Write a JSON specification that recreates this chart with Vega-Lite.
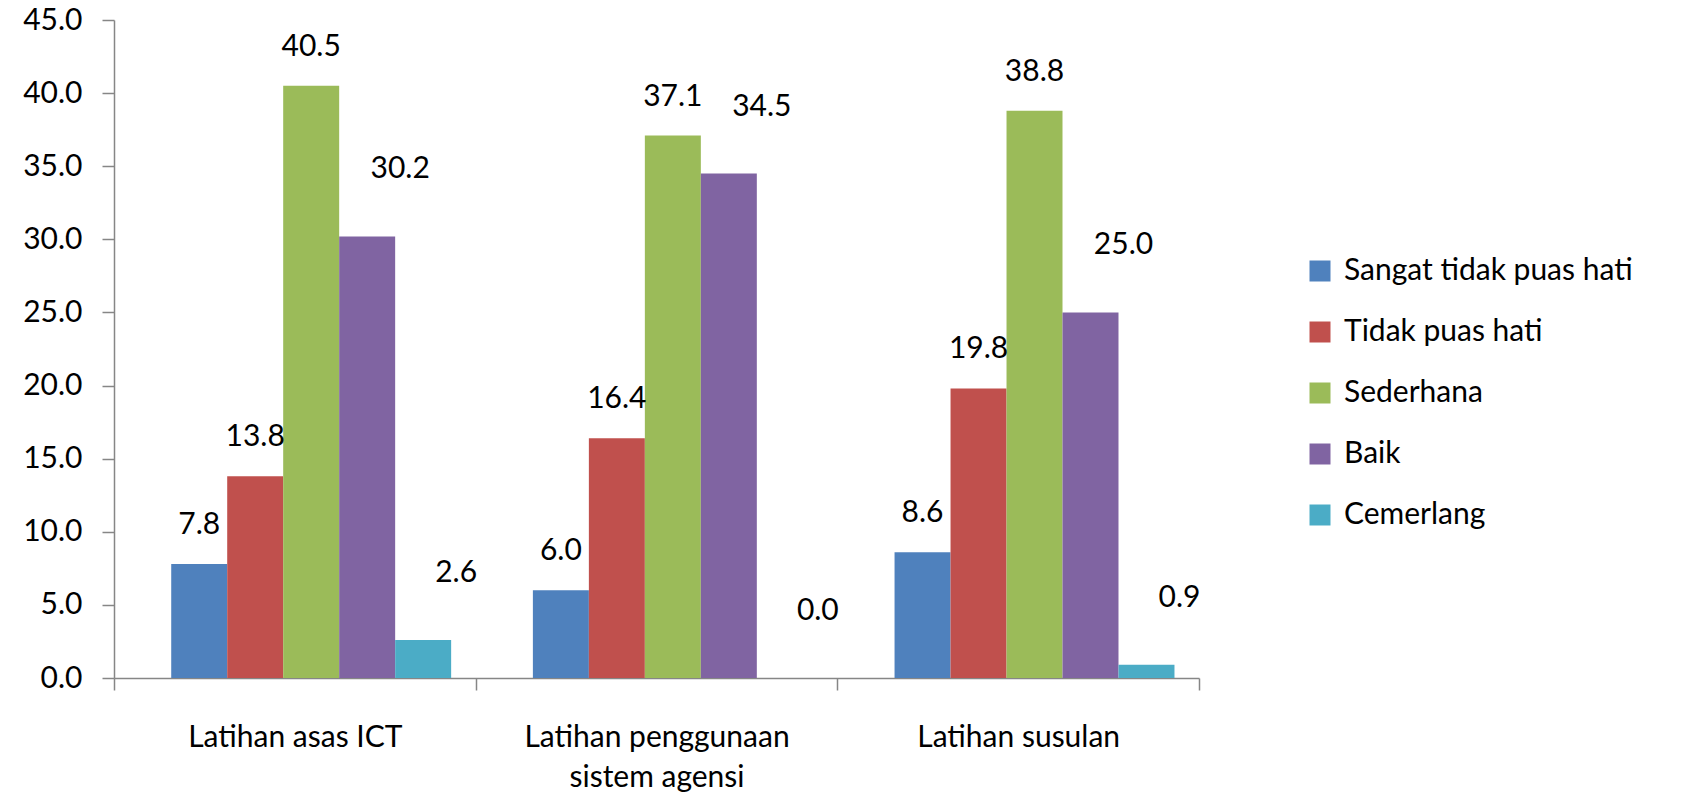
{
  "$schema": "https://vega.github.io/schema/vega-lite/v6.json",
  "autosize": "none",
  "width": 1085,
  "height": 658,
  "padding": {"left": 114, "top": 20, "right": 486, "bottom": 124},
  "background": "white",
  "config": {"font": "Lato", "view": {"stroke": null}},
  "data": {"values": [
    {"kategori": "Latihan asas ICT", "tahap": "Sangat tidak puas hati", "nilai": 7.8},
    {"kategori": "Latihan asas ICT", "tahap": "Tidak puas hati", "nilai": 13.8},
    {"kategori": "Latihan asas ICT", "tahap": "Sederhana", "nilai": 40.5},
    {"kategori": "Latihan asas ICT", "tahap": "Baik", "nilai": 30.2},
    {"kategori": "Latihan asas ICT", "tahap": "Cemerlang", "nilai": 2.6},
    {"kategori": "Latihan penggunaan sistem agensi", "tahap": "Sangat tidak puas hati", "nilai": 6.0},
    {"kategori": "Latihan penggunaan sistem agensi", "tahap": "Tidak puas hati", "nilai": 16.4},
    {"kategori": "Latihan penggunaan sistem agensi", "tahap": "Sederhana", "nilai": 37.1},
    {"kategori": "Latihan penggunaan sistem agensi", "tahap": "Baik", "nilai": 34.5},
    {"kategori": "Latihan penggunaan sistem agensi", "tahap": "Cemerlang", "nilai": 0.0},
    {"kategori": "Latihan susulan", "tahap": "Sangat tidak puas hati", "nilai": 8.6},
    {"kategori": "Latihan susulan", "tahap": "Tidak puas hati", "nilai": 19.8},
    {"kategori": "Latihan susulan", "tahap": "Sederhana", "nilai": 38.8},
    {"kategori": "Latihan susulan", "tahap": "Baik", "nilai": 25.0},
    {"kategori": "Latihan susulan", "tahap": "Cemerlang", "nilai": 0.9}
  ]},
  "encoding": {
    "x": {
      "field": "kategori", "type": "nominal", "sort": null,
      "scale": {"paddingInner": 0, "paddingOuter": 0},
      "axis": {
        "title": null, "labelAngle": 0, "labelFontSize": 30, "labelColor": "#000000",
        "labelPadding": 32, "labelLimit": 0, "domainColor": "#868686", "tickColor": "#868686",
        "domainWidth": 1.5, "tickWidth": 1.5,
        "tickSize": 12, "tickBand": "extent", "labelLineHeight": 40,
        "labelExpr": "datum.label == 'Latihan penggunaan sistem agensi' ? ['Latihan penggunaan', 'sistem agensi'] : datum.label"
      }
    },
    "xOffset": {
      "field": "tahap", "type": "nominal",
      "sort": ["Sangat tidak puas hati", "Tidak puas hati", "Sederhana", "Baik", "Cemerlang"],
      "scale": {"paddingInner": 0, "paddingOuter": 0.73, "align": 0.7}
    },
    "y": {
      "field": "nilai", "type": "quantitative",
      "scale": {"domain": [0, 45], "nice": false},
      "axis": {
        "title": null, "values": [0, 5, 10, 15, 20, 25, 30, 35, 40, 45], "format": ".1f",
        "labelFontSize": 30, "labelColor": "#000000", "labelPadding": 20,
        "grid": false, "domainColor": "#868686", "tickColor": "#868686", "tickSize": 12,
        "domainWidth": 1.5, "tickWidth": 1.5
      }
    }
  },
  "layer": [
    {
      "mark": {"type": "bar"},
      "encoding": {
        "color": {
          "field": "tahap", "type": "nominal",
          "sort": ["Sangat tidak puas hati", "Tidak puas hati", "Sederhana", "Baik", "Cemerlang"],
          "scale": {"domain": ["Sangat tidak puas hati", "Tidak puas hati", "Sederhana", "Baik", "Cemerlang"],
                    "range": ["#4F81BD", "#C0504D", "#9BBB59", "#8064A2", "#4BACC6"]},
          "legend": {
            "title": null, "orient": "none", "legendX": 1191, "legendY": 236,
            "symbolType": "square", "symbolSize": 441, "symbolStrokeWidth": 0,
            "labelFontSize": 30, "labelLimit": 0, "labelColor": "#000000", "rowPadding": 31, "labelOffset": 9
          }
        }
      }
    },
    {
      "transform": [{"filter": "datum.tahap != 'Baik' && datum.tahap != 'Cemerlang'"}],
      "mark": {"type": "text", "baseline": "alphabetic", "dy": -30, "fontSize": 30, "color": "#000000"},
      "encoding": {
        "text": {"field": "nilai", "type": "quantitative", "format": ".1f"}
      }
    },
    {
      "transform": [{"filter": "datum.tahap == 'Baik' || datum.tahap == 'Cemerlang'"}],
      "mark": {"type": "text", "baseline": "alphabetic", "dy": -58, "dx": 33, "fontSize": 30, "color": "#000000"},
      "encoding": {
        "text": {"field": "nilai", "type": "quantitative", "format": ".1f"}
      }
    }
  ]
}
